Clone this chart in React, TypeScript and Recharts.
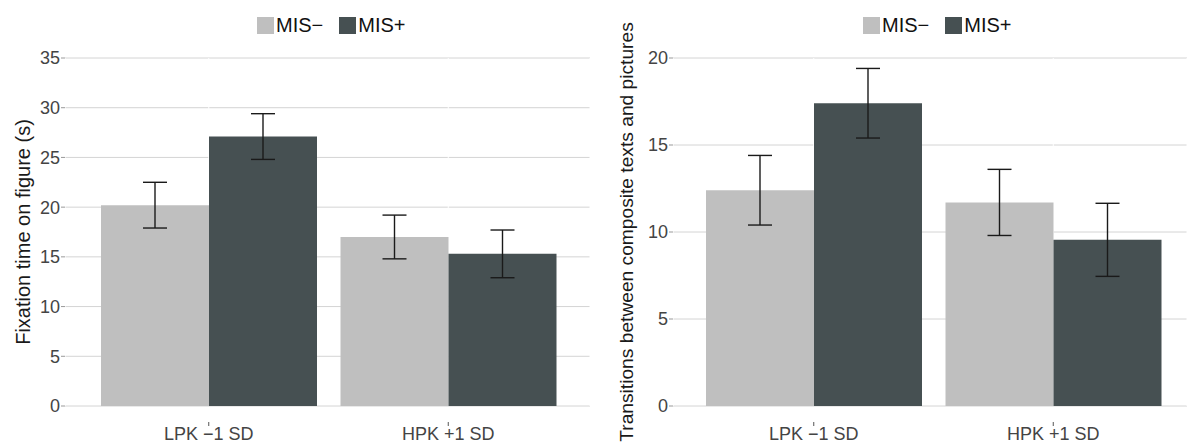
import React from 'react';
import { BarChart, Bar, XAxis, YAxis, CartesianGrid, ErrorBar, Legend } from 'recharts';

// Groups along the x axis and the two conditions shown in each group
const categories = ['LPK −1 SD', 'HPK +1 SD'];
const seriesNames = ['MIS−', 'MIS+'];

// Fixation time on figure (s): means and standard errors
const fixationMisMinus = [20.2, 17.0];
const fixationMisPlus = [27.1, 15.3];
const fixationErrMinus = [2.3, 2.2];
const fixationErrPlus = [2.3, 2.4];

// Transitions between composite texts and pictures: means and standard errors
const transitionsMisMinus = [12.4, 11.7];
const transitionsMisPlus = [17.4, 9.55];
const transitionsErrMinus = [2.0, 1.9];
const transitionsErrPlus = [2.0, 2.1];

// Y axis tick values
const fixationTicks = [0, 5, 10, 15, 20, 25, 30, 35];
const transitionsTicks = [0, 5, 10, 15, 20];

const FONT = '"Liberation Sans", Arial, Helvetica, sans-serif';
const COLORS = ['#bfbfbf', '#465052'];

const buildRows = (minus: number[], plus: number[], errMinus: number[], errPlus: number[]) =>
  categories.map((category, i) => ({
    category,
    minus: minus[i],
    plus: plus[i],
    minusErr: errMinus[i],
    plusErr: errPlus[i],
  }));

const fixationRows = buildRows(fixationMisMinus, fixationMisPlus, fixationErrMinus, fixationErrPlus);
const transitionRows = buildRows(transitionsMisMinus, transitionsMisPlus, transitionsErrMinus, transitionsErrPlus);

const LegendContent = () => (
  <div
    style={{
      display: 'flex',
      alignItems: 'center',
      height: 20,
      fontFamily: FONT,
      fontSize: 20,
      color: '#111',
      whiteSpace: 'nowrap',
    }}
  >
    {seriesNames.map((name, i) => (
      <div key={name} style={{ display: 'flex', alignItems: 'center', marginRight: i === 0 ? 16 : 0 }}>
        <span style={{ display: 'inline-block', width: 17, height: 17, background: COLORS[i], marginRight: 2 }} />
        <span>{name}</span>
      </div>
    ))}
  </div>
);

const CategoryTick = (props: any) => {
  const { x, y, payload } = props;
  return (
    <g>
      <line x1={x} x2={x} y1={y + 16} y2={y + 20} stroke="#555" strokeWidth={1} />
      <text x={x} y={y + 34} textAnchor="middle" fontSize={18} fill="#444" fontFamily={FONT}>
        {payload.value}
      </text>
    </g>
  );
};

const axisTitle = (text: string, baseX: number, size: number) => (props: any) => {
  const vb = props?.viewBox || {};
  const cy = (vb.y ?? 58) + (vb.height ?? 348) / 2;
  return (
    <text
      x={baseX}
      y={cy}
      transform={`rotate(-90, ${baseX}, ${cy})`}
      textAnchor="middle"
      fontSize={size}
      fill="#1a1a1a"
      fontFamily={FONT}
    >
      {text}
    </text>
  );
};

type PanelProps = {
  rows: any[];
  width: number;
  yWidth: number;
  marginRight: number;
  domainMax: number;
  ticks: number[];
  padLeft: number;
  padRight: number;
  legendLeft: number;
  title: string;
  titleX: number;
  titleSize: number;
};

const Panel = ({ rows, width, yWidth, marginRight, domainMax, ticks, padLeft, padRight, legendLeft, title, titleX, titleSize }: PanelProps) => (
  <BarChart
    width={width}
    height={447}
    data={rows}
    margin={{ top: 58, right: marginRight, bottom: 11, left: 0 }}
    barCategoryGap={12}
    barGap={0}
  >
    <CartesianGrid horizontal stroke="#d4d4d4" vertical={false} />
    <CartesianGrid horizontal={false} vertical stroke="#ffffff" />
    <XAxis
      dataKey="category"
      height={30}
      axisLine={false}
      tickLine={false}
      tickSize={0}
      tickMargin={0}
      padding={{ left: padLeft, right: padRight }}
      tick={<CategoryTick />}
      interval={0}
    />
    <YAxis
      width={yWidth}
      domain={[0, domainMax]}
      ticks={ticks}
      allowDataOverflow
      axisLine={false}
      tickSize={4}
      tickMargin={1}
      tickLine={{ stroke: '#999' }}
      tick={{ fill: '#444', fontSize: 18, fontFamily: FONT }}
      label={{ content: axisTitle(title, titleX, titleSize) }}
    />
    <Legend
      verticalAlign="middle"
      align="center"
      layout="horizontal"
      content={<LegendContent />}
      wrapperStyle={{ top: 15, left: legendLeft, width: 'auto', height: 20 }}
    />
    <Bar dataKey="minus" name={seriesNames[0]} fill={COLORS[0]} isAnimationActive={false}>
      <ErrorBar dataKey="minusErr" width={12} stroke="#1a1a1a" strokeWidth={1.4} direction="y" isAnimationActive={false} />
    </Bar>
    <Bar dataKey="plus" name={seriesNames[1]} fill={COLORS[1]} isAnimationActive={false}>
      <ErrorBar dataKey="plusErr" width={12} stroke="#1a1a1a" strokeWidth={1.4} direction="y" isAnimationActive={false} />
    </Bar>
  </BarChart>
);

export default function App() {
  return (
    <div style={{ position: 'absolute', left: 0, top: 0, width: 1187, height: 447, background: '#fff', overflow: 'hidden' }}>
      <div style={{ position: 'absolute', left: 0, top: 0 }}>
        <Panel
          rows={fixationRows}
          width={594}
          yWidth={65}
          marginRight={4}
          domainMax={35}
          ticks={fixationTicks}
          padLeft={24}
          padRight={22}
          legendLeft={257}
          title="Fixation time on figure (s)"
          titleX={30}
          titleSize={20}
        />
      </div>
      <div style={{ position: 'absolute', left: 594, top: 0 }}>
        <Panel
          rows={transitionRows}
          width={593}
          yWidth={79}
          marginRight={0}
          domainMax={20}
          ticks={transitionsTicks}
          padLeft={21}
          padRight={14}
          legendLeft={269}
          title="Transitions between composite texts and pictures"
          titleX={39}
          titleSize={19.2}
        />
      </div>
    </div>
  );
}
